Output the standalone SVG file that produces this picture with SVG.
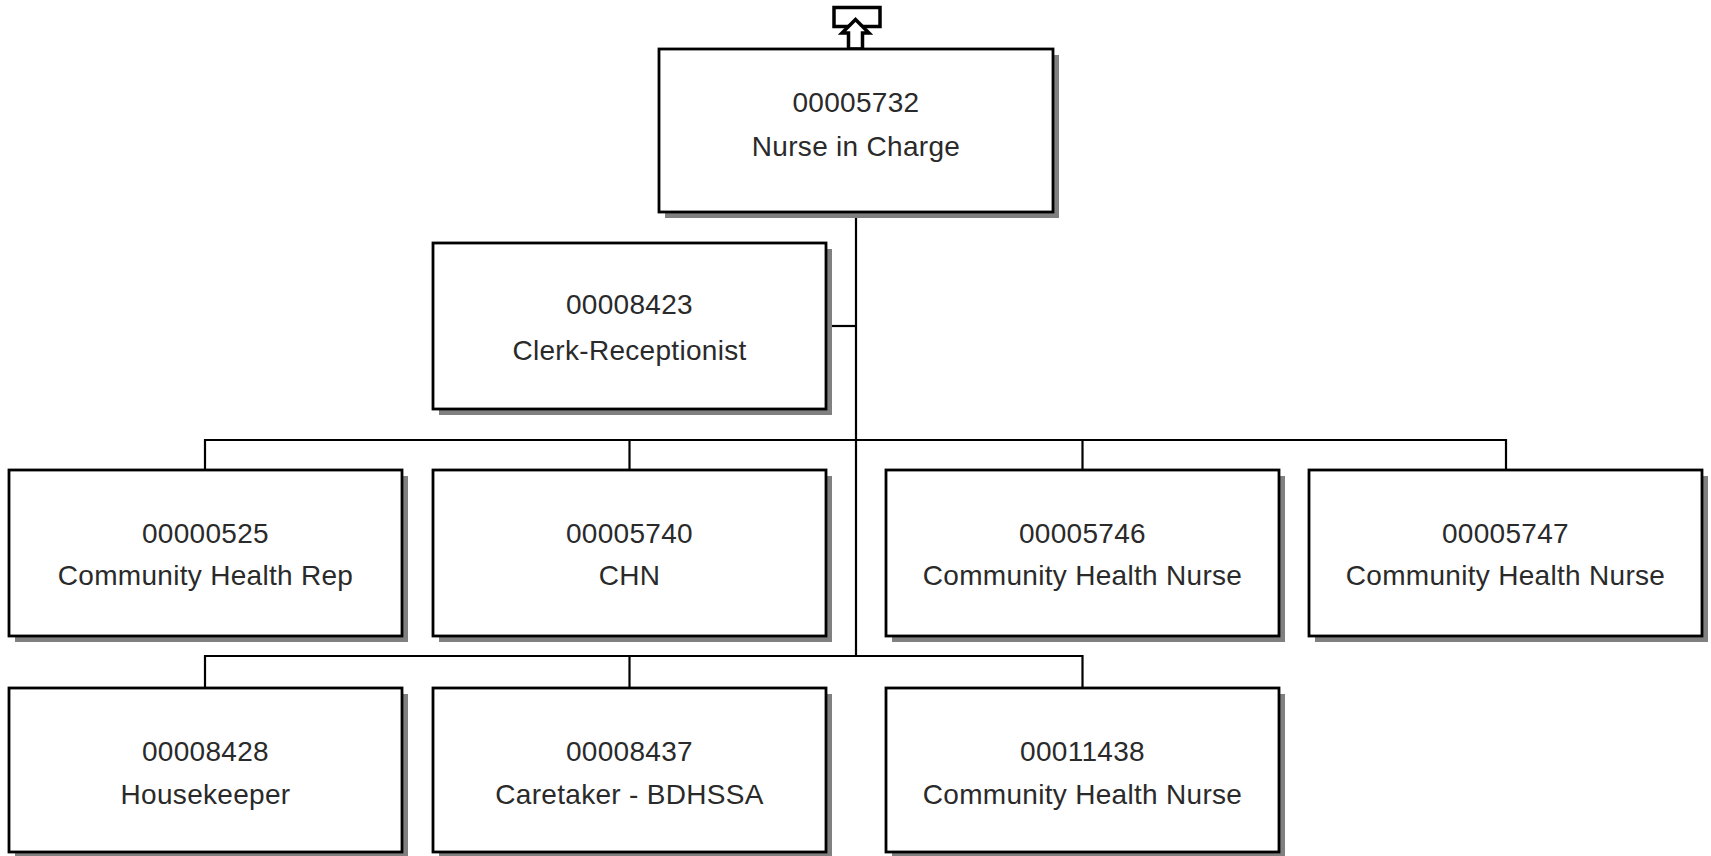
<svg xmlns="http://www.w3.org/2000/svg" width="1711" height="856" viewBox="0 0 1711 856">
<style>
.sh{fill:#808080;}
.bx{fill:#fff;stroke:#000;stroke-width:2.8;}
.t{font-family:"Liberation Sans",Arial,sans-serif;font-size:28px;fill:#2a2a2a;text-anchor:middle;letter-spacing:0.3px;}
.c{fill:none;stroke:#000;stroke-width:2.2;}
</style>
<rect width="1711" height="856" fill="#fff"/>
<g id="connectors">
<path class="c" d="M856,212 V656"/>
<path class="c" d="M826,326 H856"/>
<path class="c" d="M205,470 V440 H1506 V470"/>
<path class="c" d="M629.5,440 V470"/>
<path class="c" d="M1082.5,440 V470"/>
<path class="c" d="M205,688 V656 H1082.5 V688"/>
<path class="c" d="M629.5,656 V688"/>
</g>
<g id="upicon">
<rect x="834" y="7.5" width="46" height="19" fill="#fff" stroke="#000" stroke-width="3.5"/>
<path d="M848.5,49 V33 H842 L855.5,19.5 L869,33 H862.5 V49 Z" fill="#fff" stroke="#000" stroke-width="3.5" stroke-linejoin="miter"/>
</g>
<g id="n00005732">
<rect class="sh" x="665" y="55" width="394" height="163"/>
<rect class="bx" x="659" y="49" width="394" height="163"/>
<text class="t" x="856" y="112">00005732</text>
<text class="t" x="856" y="156">Nurse in Charge</text>
</g>
<g id="n00008423">
<rect class="sh" x="439" y="249" width="393" height="166"/>
<rect class="bx" x="433" y="243" width="393" height="166"/>
<text class="t" x="629.5" y="314">00008423</text>
<text class="t" x="629.5" y="360">Clerk-Receptionist</text>
</g>
<g id="n00000525">
<rect class="sh" x="15" y="476" width="393" height="166"/>
<rect class="bx" x="9" y="470" width="393" height="166"/>
<text class="t" x="205.5" y="543">00000525</text>
<text class="t" x="205.5" y="585">Community Health Rep</text>
</g>
<g id="n00005740">
<rect class="sh" x="439" y="476" width="393" height="166"/>
<rect class="bx" x="433" y="470" width="393" height="166"/>
<text class="t" x="629.5" y="543">00005740</text>
<text class="t" x="629.5" y="585">CHN</text>
</g>
<g id="n00005746">
<rect class="sh" x="892" y="476" width="393" height="166"/>
<rect class="bx" x="886" y="470" width="393" height="166"/>
<text class="t" x="1082.5" y="543">00005746</text>
<text class="t" x="1082.5" y="585">Community Health Nurse</text>
</g>
<g id="n00005747">
<rect class="sh" x="1315" y="476" width="393" height="166"/>
<rect class="bx" x="1309" y="470" width="393" height="166"/>
<text class="t" x="1505.5" y="543">00005747</text>
<text class="t" x="1505.5" y="585">Community Health Nurse</text>
</g>
<g id="n00008428">
<rect class="sh" x="15" y="694" width="393" height="164"/>
<rect class="bx" x="9" y="688" width="393" height="164"/>
<text class="t" x="205.5" y="761">00008428</text>
<text class="t" x="205.5" y="804">Housekeeper</text>
</g>
<g id="n00008437">
<rect class="sh" x="439" y="694" width="393" height="164"/>
<rect class="bx" x="433" y="688" width="393" height="164"/>
<text class="t" x="629.5" y="761">00008437</text>
<text class="t" x="629.5" y="804">Caretaker - BDHSSA</text>
</g>
<g id="n00011438">
<rect class="sh" x="892" y="694" width="393" height="164"/>
<rect class="bx" x="886" y="688" width="393" height="164"/>
<text class="t" x="1082.5" y="761">00011438</text>
<text class="t" x="1082.5" y="804">Community Health Nurse</text>
</g>
</svg>
